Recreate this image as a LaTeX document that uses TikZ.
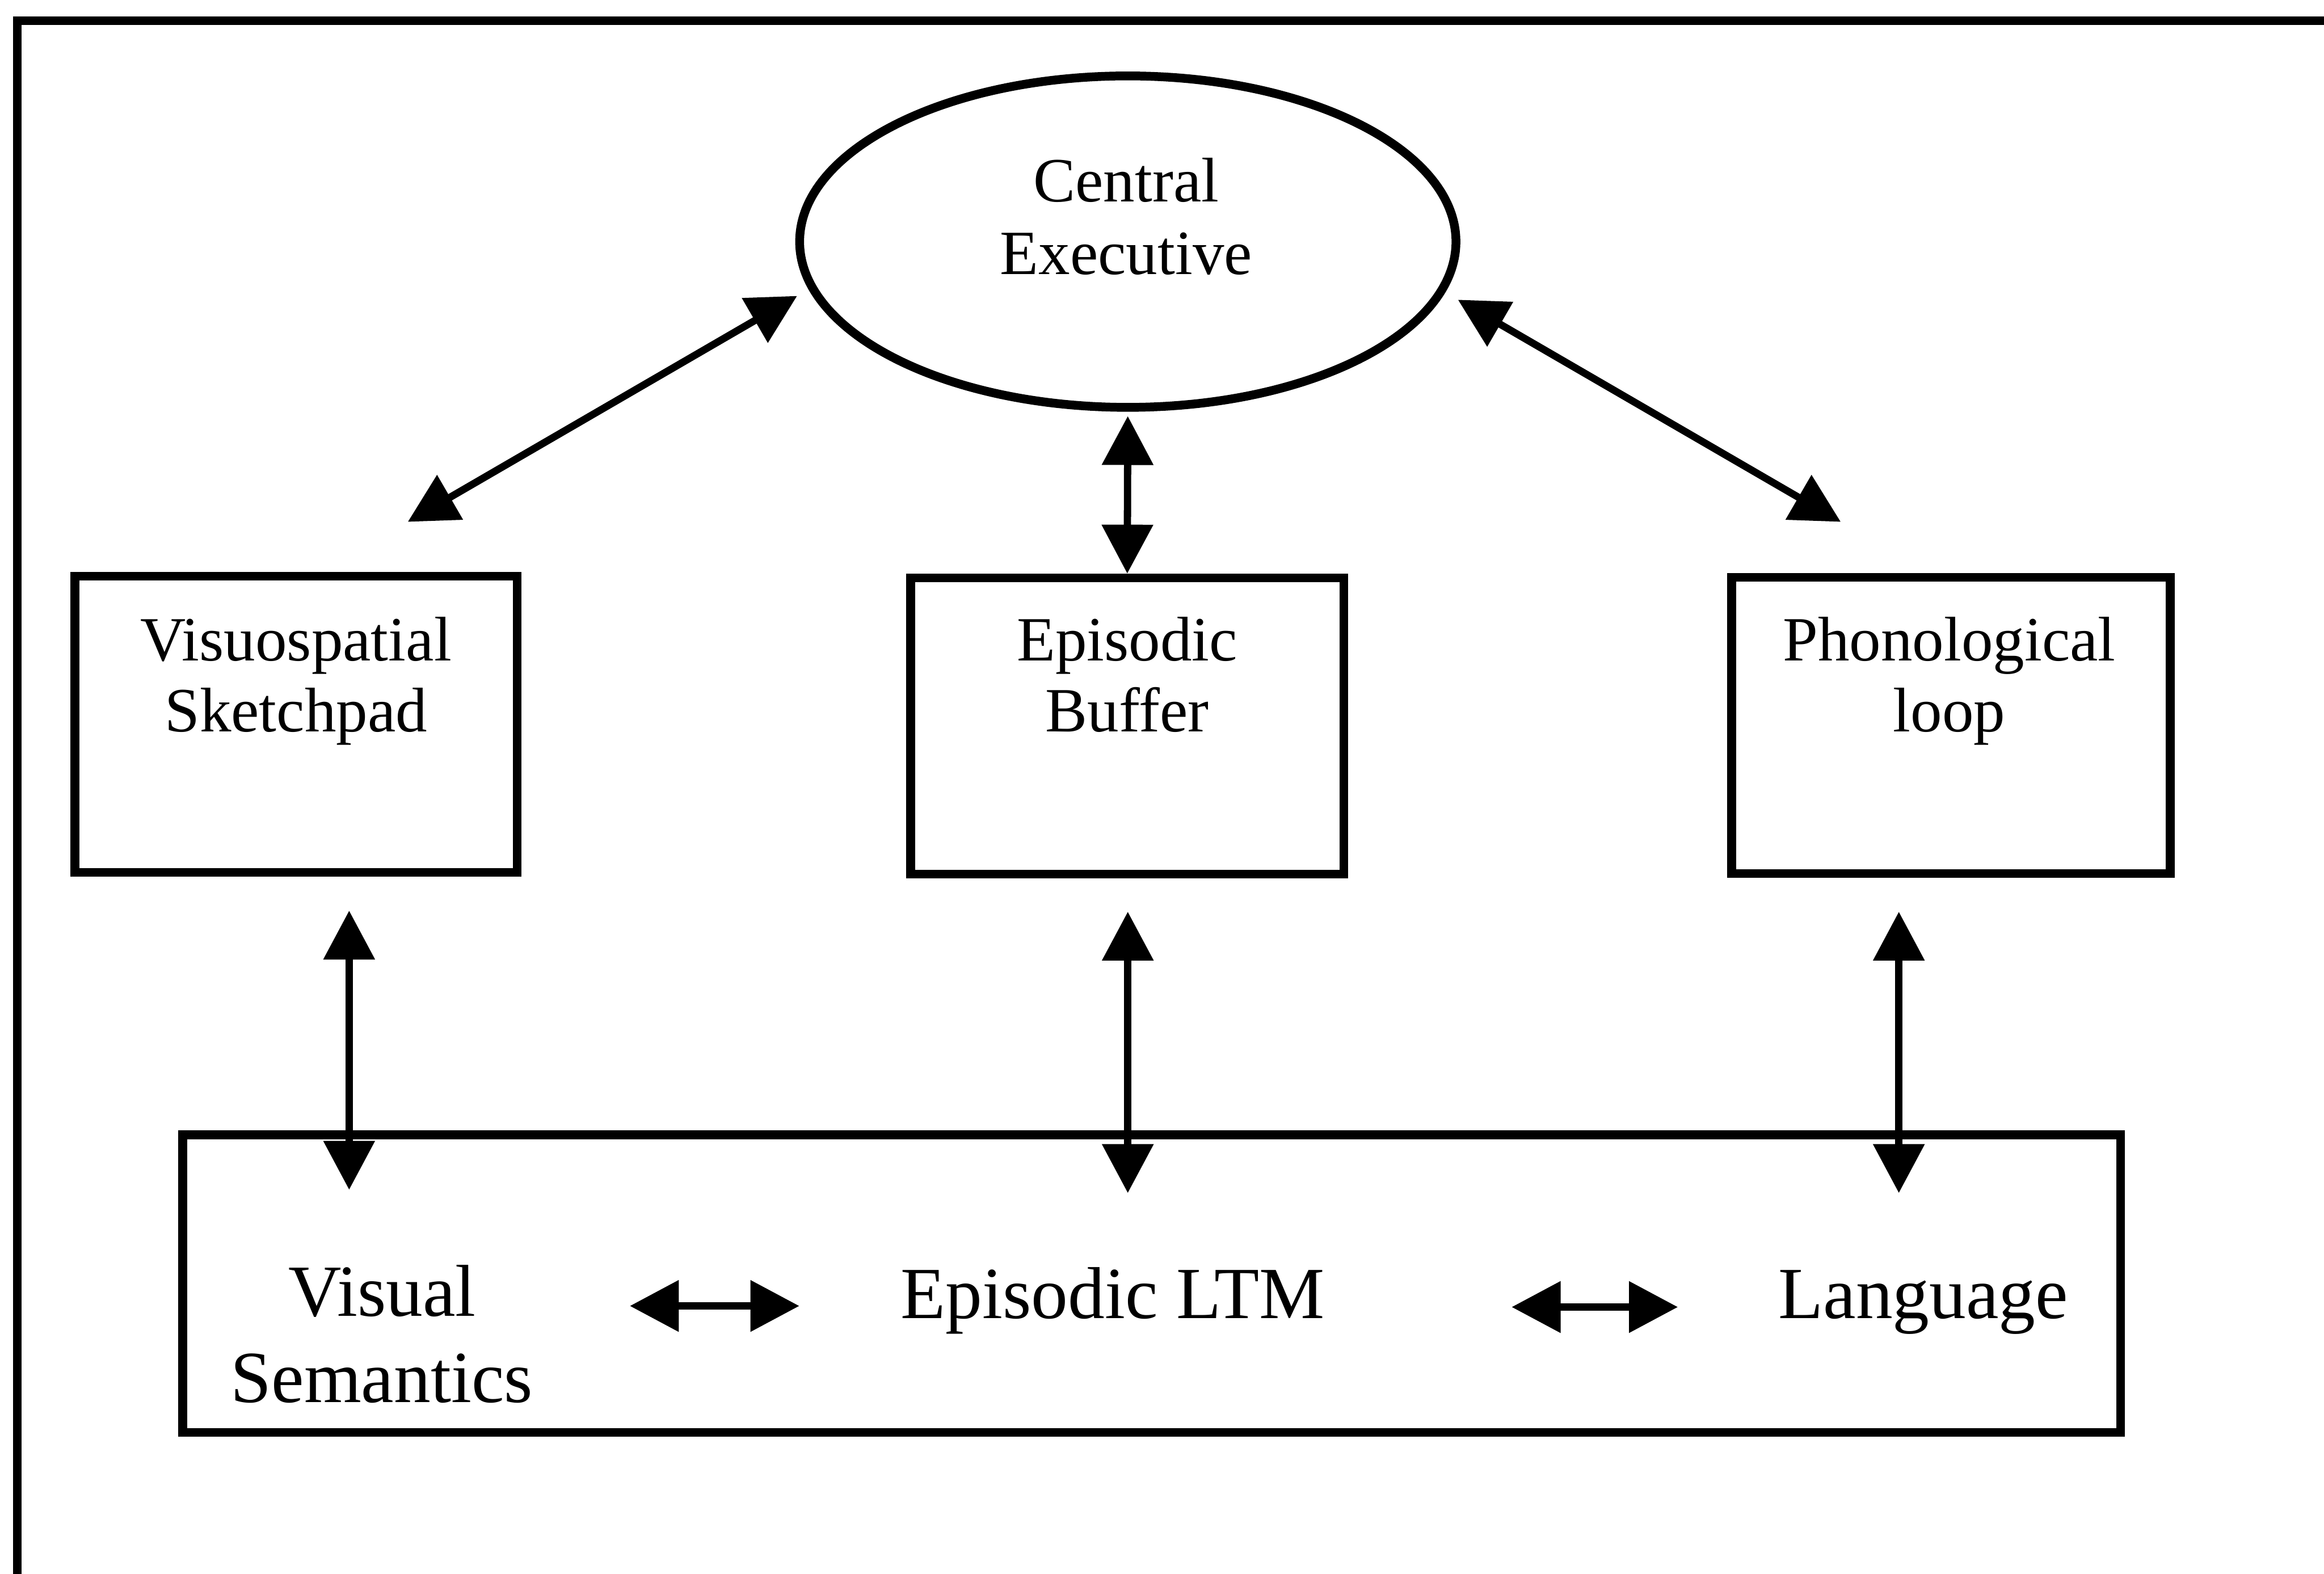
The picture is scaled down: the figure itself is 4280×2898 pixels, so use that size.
\documentclass[tikz,border=0pt]{standalone}
\usepackage{fontspec}
\setmainfont{Liberation Serif}
\usetikzlibrary{arrows.meta,shapes.geometric}
\tikzset{
  boxst/.style={draw, line width=4.6pt, inner sep=0pt, minimum height=5.45cm},
  lbl/.style={font=\fontsize{33}{37}\selectfont, anchor=base, inner sep=0pt},
  biglbl/.style={font=\fontsize{38.5}{45}\selectfont, anchor=base, inner sep=0pt},
  dbl/.style={line width=3.8pt, {Triangle[length=9mm,width=9.2mm]}-{Triangle[length=9mm,width=9.2mm]}},
}
\begin{document}
\begin{tikzpicture}[x=0.01cm,y=-0.01cm]
\useasboundingbox (0,0) rectangle (4280,2898);
\clip (0,0) rectangle (4280,2898);
\fill[white] (0,0) rectangle (4280,2898);
% outer frame (cut off at right and bottom)
\draw[line width=4.6pt, line join=miter] (32,3000) -- (32,38) -- (4400,38);

% main nodes
\node[ellipse, draw, line width=4.6pt, minimum width=12.08cm, minimum height=6.1cm, inner sep=0pt] (ce) at (2077,445) {};
\node[boxst, minimum width=8.14cm] (vs) at (545,1334) {};
\node[boxst, minimum width=7.97cm] (eb) at (2076,1337) {};
\node[boxst, minimum width=8.07cm] (pl) at (3593,1336) {};
\node[draw, line width=4.6pt, inner sep=0pt, minimum width=35.67cm, minimum height=5.48cm] (ltm) at (2121,2364) {};

% labels
\node[lbl] (ce1) at (2074,372) {Central};
\node[lbl] (ce2) at (2074,505) {Executive};
\node[lbl] (vs1) at (545,1217) {Visuospatial};
\node[lbl] (vs2) at (545,1347) {Sketchpad};
\node[lbl] (eb1) at (2076,1217) {Episodic};
\node[lbl] (eb2) at (2076,1347) {Buffer};
\node[lbl] (pl1) at (3590,1217) {Phonological};
\node[lbl] (pl2) at (3590,1347) {loop};
\node[biglbl] (vsem1) at (704,2424) {Visual};
\node[biglbl] (vsem2) at (703,2582) {Semantics};
\node[biglbl] (eltm) at (2049,2428) {Episodic LTM};
\node[biglbl] (lang) at (3542,2428) {Language};

% arrow end points
\coordinate (a1s) at (751,961);
\coordinate (a1e) at (1468,545);
\coordinate (a3s) at (2685,552);
\coordinate (a3e) at (3390,961);
\coordinate (v1a) at (643,1677);
\coordinate (v1b) at (643,2191);
\coordinate (v2a) at (2077,1679);
\coordinate (v2b) at (2077,2197);
\coordinate (v3a) at (3497,1679);
\coordinate (v3b) at (3497,2197);
\coordinate (h1a) at (1160,2405);
\coordinate (h1b) at (1472,2405);
\coordinate (h2a) at (2784,2407);
\coordinate (h2b) at (3090,2407);

% connectors
\draw[dbl] (a1s) -- (a1e);
\draw[dbl] (a3s) -- (a3e);
\draw[dbl, shorten <=0.08cm] (ce.south) -- (eb.north);
\draw[dbl] (v1a) -- (v1b);
\draw[dbl] (v2a) -- (v2b);
\draw[dbl] (v3a) -- (v3b);
\draw[dbl] (h1a) -- (h1b);
\draw[dbl] (h2a) -- (h2b);
\end{tikzpicture}
\end{document}
